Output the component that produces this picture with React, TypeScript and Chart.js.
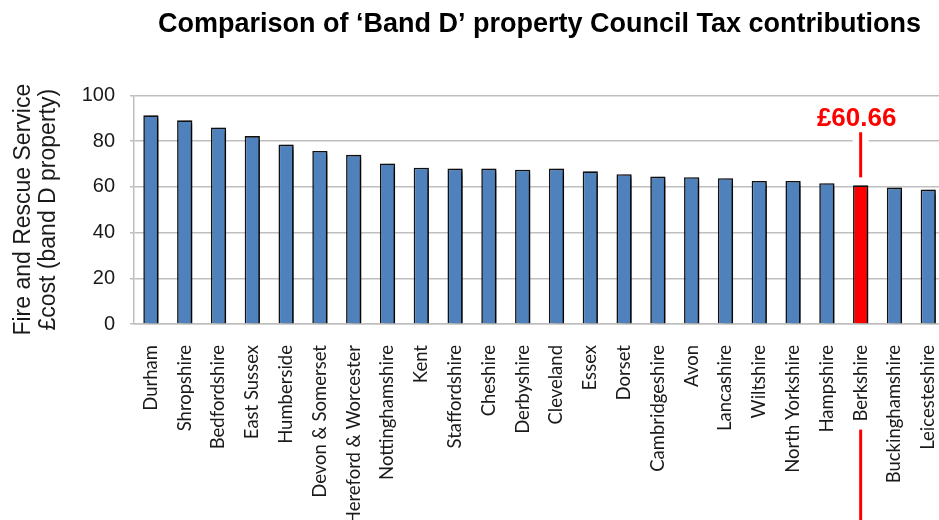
import React, { useEffect, useRef } from 'react';
import { Chart, registerables } from 'chart.js';

Chart.register(...registerables);

const titleText = 'Comparison of \u2018Band D\u2019 property Council Tax contributions';
const yAxisTitle = ['Fire and Rescue Service', '\u00a3cost (band D property)'];

const categories = [
  'Durham', 'Shropshire', 'Bedfordshire', 'East Sussex', 'Humberside', 'Devon & Somerset',
  'Hereford & Worcester', 'Nottinghamshire', 'Kent', 'Staffordshire', 'Cheshire', 'Derbyshire',
  'Cleveland', 'Essex', 'Dorset', 'Cambridgeshire', 'Avon', 'Lancashire', 'Wiltshire',
  'North Yorkshire', 'Hampshire', 'Berkshire', 'Buckinghamshire', 'Leicesteshire',
];

const values = [
  91.3, 89.1, 86.0, 82.2, 78.5, 75.7,
  74.0, 70.2, 68.4, 68.0, 68.0, 67.5,
  68.0, 66.8, 65.5, 64.5, 64.2, 63.8, 62.6,
  62.6, 61.6, 60.66, 59.7, 58.8,
];

const yTickLabels = [0, 20, 40, 60, 80, 100];
const highlightCategory = 'Berkshire';
const highlightText = '\u00a360.66';
const highlightTextAt = 90;

const BLUE = '#4f81bd';
const RED = '#ff0000';
const GRID = '#bfbfbf';
const LABEL_FONT_SIZE = 18.5;
const LABEL_PADDING = 21;

const shadowPlugin = {
  id: 'barShadow',
  beforeDatasetsDraw(chart: any) {
    const ctx = chart.ctx;
    ctx.save();
    ctx.shadowColor = 'rgba(0,0,0,0.7)';
    ctx.shadowBlur = 4;
    ctx.shadowOffsetX = 5;
    ctx.shadowOffsetY = 2;
  },
  afterDatasetsDraw(chart: any) {
    chart.ctx.restore();
  },
};

const calloutPlugin = {
  id: 'callout',
  afterDraw(chart: any) {
    const ctx = chart.ctx;
    const xs = chart.scales.x;
    const ys = chart.scales.y;
    const idx = categories.indexOf(highlightCategory);
    const x = xs.getPixelForValue(idx);
    const textY = ys.getPixelForValue(highlightTextAt);
    const barTop = ys.getPixelForValue(values[idx]);
    ctx.save();
    ctx.font = 'bold 26px "Liberation Sans"';
    const w = ctx.measureText(highlightText).width;
    const tx = x - 4;
    ctx.fillStyle = '#ffffff';
    ctx.fillRect(tx - w / 2 - 8, textY - 14, w + 16, 28);
    ctx.fillStyle = RED;
    ctx.textAlign = 'center';
    ctx.textBaseline = 'middle';
    ctx.fillText(highlightText, tx, textY + 1);
    const lineTop = textY + 14;
    const lineBottom = barTop - 8;
    ctx.fillStyle = '#ffffff';
    ctx.fillRect(x - 8, lineTop, 16, lineBottom - lineTop);
    ctx.strokeStyle = RED;
    ctx.lineWidth = 3;
    ctx.beginPath();
    ctx.moveTo(x, lineTop);
    ctx.lineTo(x, lineBottom);
    ctx.stroke();
    // line below the category label
    let lw = 0;
    const sizes = xs._labelSizes;
    if (sizes && sizes.widths && sizes.widths[idx] != null) {
      lw = sizes.widths[idx];
    } else {
      ctx.font = LABEL_FONT_SIZE + 'px Lato';
      lw = ctx.measureText(highlightCategory).width;
    }
    const belowStart = chart.chartArea.bottom + LABEL_PADDING + lw + 8;
    ctx.beginPath();
    ctx.moveTo(x, belowStart);
    ctx.lineTo(x, chart.height);
    ctx.stroke();
    ctx.restore();
  },
};

export default function App() {
  const ref = useRef<HTMLCanvasElement>(null);

  useEffect(() => {
    const canvas = ref.current;
    if (!canvas) return;
    const colors = categories.map((c) => (c === highlightCategory ? RED : BLUE));
    const chart = new Chart(canvas, {
      type: 'bar',
      data: {
        labels: categories,
        datasets: [
          {
            data: values,
            backgroundColor: colors,
            borderColor: '#111111',
            borderWidth: 1.6,
            categoryPercentage: 1,
            barPercentage: 0.45,
          },
        ],
      },
      options: {
        responsive: false,
        animation: false,
        devicePixelRatio: 1,
        layout: { padding: { left: 0, right: 5, top: 0, bottom: 0 } },
        plugins: {
          legend: { display: false },
          tooltip: { enabled: false },
          title: {
            display: true,
            text: titleText,
            fullSize: false,
            color: '#000000',
            font: { family: '"Liberation Sans"', size: 27, weight: 'bold' },
            padding: { top: 8, bottom: 55 },
          },
        },
        scales: {
          x: {
            offset: true,
            grid: { display: false, drawTicks: false },
            border: { display: true, color: GRID, width: 1.5 },
            ticks: {
              autoSkip: false,
              minRotation: 90,
              maxRotation: 90,
              padding: LABEL_PADDING,
              color: '#1a1a1a',
              font: { family: 'Lato', size: LABEL_FONT_SIZE },
            },
            afterFit: (scale: any) => {
              scale.height = 196;
            },
          },
          y: {
            min: 0,
            max: 100,
            grid: { color: GRID, lineWidth: 1.5, tickLength: 4, drawTicks: true },
            border: { display: true, color: GRID, width: 1.5 },
            ticks: {
              stepSize: 10,
              padding: 15,
              color: '#1a1a1a',
              font: { family: '"Liberation Sans"', size: 20 },
              callback: (v: any) => (yTickLabels.includes(Number(v)) ? String(v) : ''),
            },
            title: {
              display: true,
              text: yAxisTitle,
              color: '#1a1a1a',
              font: { family: '"Liberation Sans"', size: 23, lineHeight: 1.05 },
              padding: { top: 12, bottom: 0 },
            },
            afterFit: (scale: any) => {
              scale.width = 134;
            },
          },
        },
      },
      plugins: [shadowPlugin, calloutPlugin],
    });
    return () => chart.destroy();
  }, []);

  return (
    <div
      style={{
        position: 'absolute',
        left: 0,
        top: 0,
        width: 939,
        height: 520,
        overflow: 'hidden',
        background: '#ffffff',
      }}
    >
      <canvas ref={ref} width={972} height={520} style={{ display: 'block' }} />
    </div>
  );
}
